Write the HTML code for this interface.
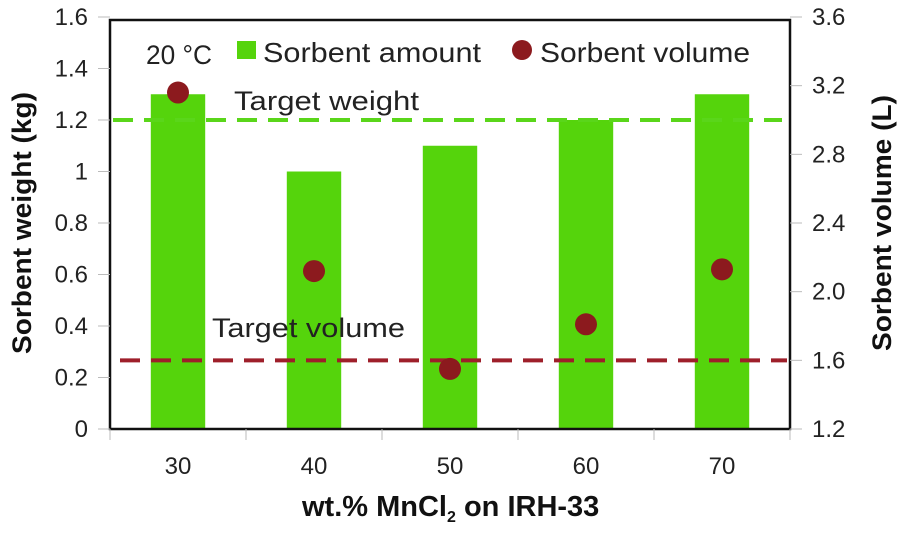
<!DOCTYPE html>
<html><head><meta charset="utf-8"><style>
html,body{margin:0;padding:0;background:#fff;}
svg{display:block;font-family:"Liberation Sans",sans-serif;}
</style></head><body>
<svg id="chart" width="901" height="533" viewBox="0 0 901 533" xmlns="http://www.w3.org/2000/svg"></svg>
<script>
const categories = ["30","40","50","60","70"];
const sorbentAmount = [1.3, 1.0, 1.1, 1.2, 1.3];
const sorbentVolume = [3.16, 2.12, 1.55, 1.81, 2.13];
const leftTicks = ["0","0.2","0.4","0.6","0.8","1","1.2","1.4","1.6"];
const rightTicks = ["1.2","1.6","2.0","2.4","2.8","3.2","3.6"];
const targetWeight = [1.2];
const targetVolume = [1.6];

const NS="http://www.w3.org/2000/svg";
const svg=document.getElementById('chart');
const L=110,R=790,T=17,B=429;
const yL=v=>B-(v-0)/1.6*(B-T);
const yR=v=>B-(v-1.2)/2.4*(B-T);
const band=(R-L)/categories.length;
const xC=i=>L+band*(i+0.5);
function mk(tag,attrs,text){const e=document.createElementNS(NS,tag);for(const k in attrs)e.setAttribute(k,attrs[k]);if(text!==undefined)e.textContent=text;svg.appendChild(e);return e;}

sorbentAmount.forEach((v,i)=>{
  const bw=band*0.4;
  const r=mk('rect',{x:xC(i)-bw/2,y:yL(v),width:bw,height:B-yL(v),fill:'#55d40c'});
  
  
});
const tw=mk('line',{x1:L+3,x2:R-8,y1:yL(targetWeight[0]),y2:yL(targetWeight[0]),stroke:'#5ad61a','stroke-width':4,'stroke-dasharray':'20 11'});


const tv=mk('line',{x1:L+10,x2:R-3,y1:yR(targetVolume[0]),y2:yR(targetVolume[0]),stroke:'#9e1f2a','stroke-width':4,'stroke-dasharray':'20 11'});


sorbentVolume.forEach((v,i)=>{
  const c=mk('circle',{cx:xC(i),cy:yR(v),r:11,fill:'#8c1a1e'});
  
  
});
const fr=mk('rect',{x:L,y:T+3,width:R-L,height:B-T-3,fill:'none',stroke:'#111','stroke-width':2.5});


leftTicks.forEach(t=>{
  const y=yL(parseFloat(t));
  mk('line',{x1:L-12,x2:L,y1:y,y2:y,stroke:'#bbb','stroke-width':1});
  const e=mk('text',{x:L-22,y:y+8,'text-anchor':'end','font-size':24,fill:'#222'},t);
  
  
});
rightTicks.forEach(t=>{
  const y=yR(parseFloat(t));
  mk('line',{x1:R,x2:R+12,y1:y,y2:y,stroke:'#bbb','stroke-width':1});
  const e=mk('text',{x:R+22,y:y+8,'text-anchor':'start','font-size':24,fill:'#222'},t);
  
  
});
for(let i=0;i<=categories.length;i++){
  const x=L+band*i;
  mk('line',{x1:x,x2:x,y1:B,y2:B+11,stroke:'#bbb','stroke-width':1});
}
categories.forEach((c,i)=>{
  const e=mk('text',{x:xC(i),y:B+45,'text-anchor':'middle','font-size':24,fill:'#222'},c);
  
  
});
</script>
<script>
(function(){
const svg=document.getElementById('chart');
const NS="http://www.w3.org/2000/svg";
function t(x,y,txt,attrs){const e=document.createElementNS(NS,'text');e.setAttribute('x',x);e.setAttribute('y',y);for(const k in attrs)e.setAttribute(k,attrs[k]);e.innerHTML=txt;svg.appendChild(e);return e;}
let e;
const fit={lengthAdjust:'spacingAndGlyphs'};
e=t(146,64,'20 °C',Object.assign({'font-size':27,fill:'#222',textLength:66},fit));


const sq=document.createElementNS(NS,'rect');
sq.setAttribute('x',237);sq.setAttribute('y',41);sq.setAttribute('width',19);sq.setAttribute('height',18);sq.setAttribute('fill','#55d40c');


svg.appendChild(sq);
e=t(263,62,'Sorbent amount',Object.assign({'font-size':28,fill:'#222',textLength:218},fit));


const dc=document.createElementNS(NS,'circle');
dc.setAttribute('cx',522);dc.setAttribute('cy',50);dc.setAttribute('r',10);dc.setAttribute('fill','#8c1a1e');


svg.appendChild(dc);
e=t(540,62,'Sorbent volume',Object.assign({'font-size':28,fill:'#222',textLength:210},fit));


e=t(234,110,'Target weight',Object.assign({'font-size':27,fill:'#222',textLength:185},fit));


e=t(212,337,'Target volume',Object.assign({'font-size':27,fill:'#222',textLength:193},fit));


e=t(0,0,'Sorbent weight (kg)',Object.assign({'font-size':27,'font-weight':'bold',fill:'#111','text-anchor':'middle',textLength:262,transform:'translate(31,223) rotate(-90)'},fit));


e=t(0,0,'Sorbent volume (L)',Object.assign({'font-size':27,'font-weight':'bold',fill:'#111','text-anchor':'middle',textLength:256,transform:'translate(891,223) rotate(-90)'},fit));


e=t(302,516,'wt.% MnCl<tspan font-size="16" dy="6">2</tspan><tspan dy="-6"> on IRH-33</tspan>',{'font-size':29,'font-weight':'bold',fill:'#111'});


})();
</script>
</body></html>
